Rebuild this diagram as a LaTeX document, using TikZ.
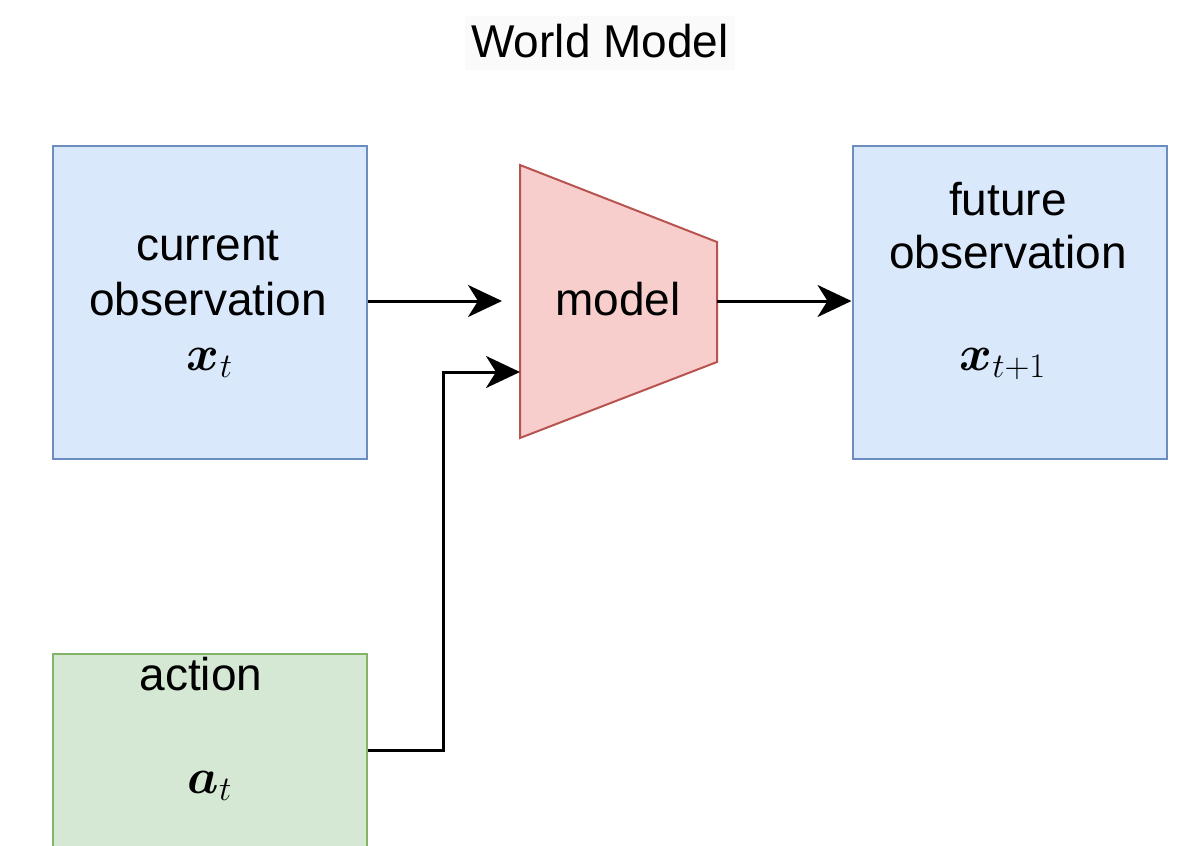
\documentclass[tikz,border=0pt]{standalone}
\usepackage{amsmath}
\usepackage{fontspec}
\setmainfont{Liberation Sans}
\usetikzlibrary{arrows.meta}
\definecolor{bluefill}{HTML}{DAE8FC}
\definecolor{bluedraw}{HTML}{6C8EBF}
\definecolor{redfill}{HTML}{F8CECC}
\definecolor{reddraw}{HTML}{B85450}
\definecolor{greenfill}{HTML}{D5E8D4}
\definecolor{greendraw}{HTML}{82B366}
\definecolor{titlebg}{HTML}{FAFAFA}
\tikzset{
  obsbox/.style={draw=bluedraw, fill=bluefill, line width=1pt, minimum width=157pt, minimum height=156.5pt, inner sep=0pt},
  actbox/.style={draw=greendraw, fill=greenfill, line width=1pt, minimum width=157pt, minimum height=157pt, inner sep=0pt, anchor=north},
  lbl/.style={font=\fontsize{23}{26}\selectfont, anchor=base, inner sep=0pt},
  conn/.style={line width=1.5pt, -{Stealth[length=17pt, width=16pt, inset=5pt]}}
}
\begin{document}
\begin{tikzpicture}[x=0.5pt, y=-0.5pt]
\useasboundingbox (0,0) rectangle (1184,846);
\clip (0,0) rectangle (1184,846);
% title
\fill[titlebg] (465,16) rectangle (735,70);
\node[lbl] (title) at (600,57) {World Model};
% boxes
\node[obsbox] (cur) at (210,302.5) {};
\node[obsbox] (fut) at (1009.5,302.5) {};
\node[actbox] (act) at (210,653) {};
% model trapezoid
\coordinate (mtl) at (520,165);
\coordinate (mbl) at (520,438);
\coordinate (mtr) at (717,242);
\coordinate (mbr) at (717,362);
\draw[draw=reddraw, fill=redfill, line width=1pt, line join=miter] (mtl) -- (mtr) -- (mbr) -- (mbl) -- cycle;
\node[lbl] (model) at (618,315) {model};
\coordinate (modelin1) at (502,301);
\coordinate (modelin2) at (520,372);
\coordinate (modelout) at (717,301);
% labels
\node[lbl] (cur1) at (208,260) {current};
\node[lbl] (cur2) at (208,315) {observation};
\node[lbl] (cur3) at (210,370) {$\boldsymbol{x}_t$};
\node[lbl] (fut1) at (1008,215) {future};
\node[lbl] (fut2) at (1008,268) {observation};
\node[lbl] (fut3) at (1003,370) {$\boldsymbol{x}_{t+1}$};
\node[lbl] (act1) at (201,690) {action};
\node[lbl] (act2) at (210,793) {$\boldsymbol{a}_t$};
% connectors
\draw[conn] (cur.east |- modelin1) -- (modelin1);
\draw[conn] (modelout) -- (fut.west |- modelout);
\draw[conn] (act.east |- 0,750) -- (443,750) -- (443,372) -- (modelin2);
\end{tikzpicture}
\end{document}
